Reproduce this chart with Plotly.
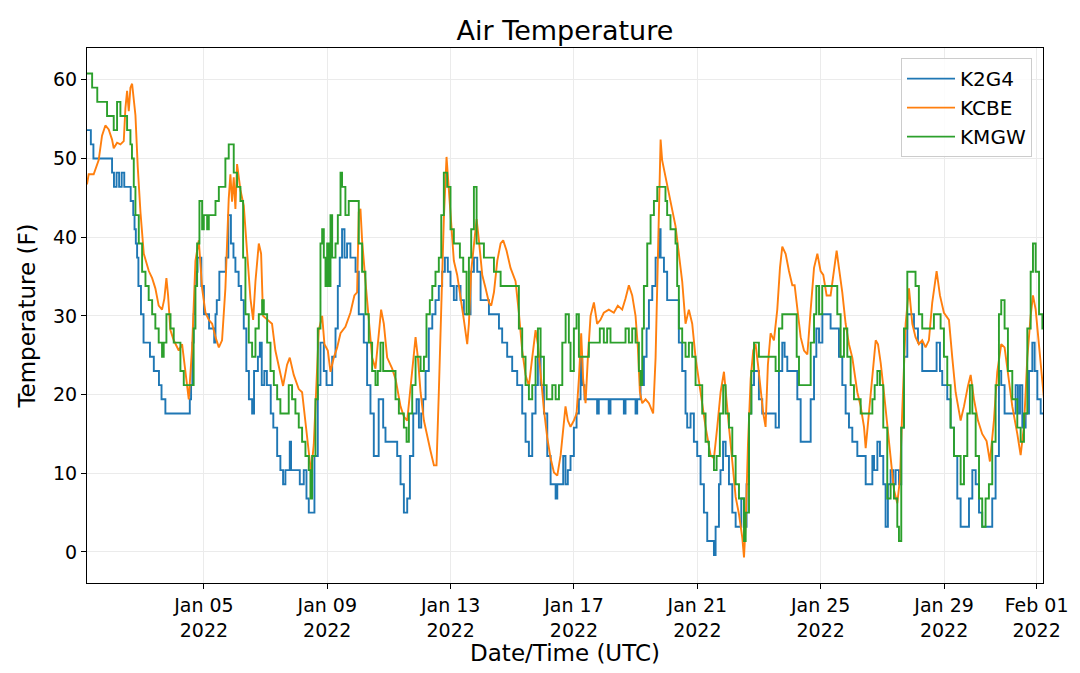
import numpy as np
import pandas as pd
import plotly.graph_objects as go

# ---- data: hours since 2022-01-01 00:00 UTC, temperature (F) ----
k2g4_hours = [5, 8, 10, 24.5, 26, 28, 30, 32, 34, 39, 41, 42, 43, 44, 45, 47, 49, 54, 57, 61, 63, 66,
              84, 85, 86, 87, 88, 89, 90, 91, 92.5, 94, 96, 100, 104, 105, 106, 108, 113, 115, 117, 119,
              120.5, 123, 125, 127, 129, 131, 133.5, 135, 138, 139.5, 141, 143, 145, 148, 150, 153, 155.5,
              157.6, 159.4, 162.8, 163.8, 167, 170.6, 173.7, 175.8, 177.6, 180.2, 182, 184.6, 186.7, 189.3,
              191.4, 194.5, 195.8, 198.4, 200.2, 201.7, 203.5, 205.4, 207.4, 210, 214, 216.5, 220.4, 223,
              225.6, 228.2, 230.8, 232, 233.9, 235.5, 237.3, 243.8, 246.4, 249, 251.6, 254.2, 256.3, 258.9,
              261.5, 263.3, 265.1, 266.6, 268.5, 271, 273.7, 276.2, 278.8, 281.4, 283.5, 285.8, 287.9,
              290.5, 292.6, 295.7, 298.3, 303.5, 306.1, 308.7, 311.3, 317.8, 325.6, 328.1, 332, 335.9,
              339.8, 343.7, 346.3, 348.9, 351.5, 354.1, 355.9, 358, 360.6, 363.2, 365.8, 369.7, 371,
              375.6, 377.4, 379.2, 381.3, 383.9, 386, 387.8, 389.1, 390.4, 392.2, 402, 403.3, 411, 412.4,
              422.8, 424.1, 431.9, 433.2, 435.8, 438.4, 440.5, 442.3, 444.9, 447.5, 450.1, 451.4, 454,
              456.5, 465.6, 468.2, 470.8, 472.1, 474.7, 477.3, 479.9, 482.5, 485.1, 487.7, 492.9, 494.2,
              496.8, 498, 500, 502, 504.6, 507.2, 509.8, 514.2, 516.3, 518.3, 520.2, 522, 524.1, 527.9,
              530.5, 540.9, 543.5, 546.1, 547.9, 550, 557.8, 560.4, 568.2, 570.8, 572.6, 574.7, 577.3,
              583.7, 590.2, 592.8, 595.4, 598, 600.6, 604.5, 611, 616.2, 617.5, 620.1, 622.1, 624.7,
              626.5, 628.3, 630.4, 632.5, 634.3, 636.9, 638.7, 640.8, 643.4, 648.6, 651.7, 655, 666.2,
              668.8, 670.6, 674.5, 677.1, 679.7, 682.3, 684.9, 691.4, 694, 696.6, 699.2, 701.7, 709.5,
              712.1, 714.7, 716.5, 719.1, 727.7, 729.5, 731.1, 732.9, 735.5, 738.1, 740.7, 742.5, 744.6,
              747.2, 749.8]
k2g4_temp = [53.6, 51.8, 50.0, 48.2, 46.4, 48.2, 46.4, 48.2, 46.4, 44.6, 42.8, 41.0, 39.2, 37.4, 33.8, 30.2,
             26.6, 24.8, 23.0, 21.2, 19.4, 17.6,
             17.6, 19.4, 21.2, 26.6, 30.2, 33.8, 35.6, 37.4, 37.4, 33.8, 30.2, 28.4, 26.6, 30.2, 32.0, 35.6,
             37.4, 42.8, 39.2, 37.4, 35.6, 33.8, 32.0, 28.4, 23.0, 19.4, 17.6, 23.0, 24.8, 26.6, 21.2, 23.0,
             21.2, 17.6, 15.8, 12.2, 10.4, 8.6, 10.4, 14.0, 10.4, 10.4, 8.6, 10.4, 6.8, 5.0, 5.0, 12.2,
             21.2, 26.6, 23.0, 21.2, 21.2, 24.8, 28.4, 33.8, 37.4, 41.0, 37.4, 39.2, 37.4, 35.6, 30.2,
             26.6, 21.2, 17.6, 12.2, 12.2, 19.4, 19.4, 15.8, 14.0, 14.0, 12.2, 8.6, 5.0, 6.8, 12.2, 17.6,
             19.4, 15.8, 17.6, 19.4, 23.0, 28.4, 30.2, 32.0, 33.8, 35.6, 37.4, 35.6, 33.8, 32.0, 33.8,
             32.0, 30.2, 35.6, 37.4, 35.6, 32.0, 30.2, 28.4, 26.6, 24.8, 23.0, 21.2, 17.6, 14.0, 12.2,
             17.6, 21.2, 24.8, 21.2, 17.6, 12.2, 8.6, 6.8, 8.6,
             12.2, 8.6, 10.4, 12.2, 15.8, 17.6, 19.4, 24.8, 21.2, 19.4, 17.6, 19.4, 17.6, 19.4, 17.6,
             19.4, 17.6, 19.4, 21.2, 24.8, 28.4, 32.0, 33.8, 37.4, 41.0, 37.4, 35.6, 32.0, 26.6, 23.0,
             17.6, 15.8, 17.6, 14.0, 12.2, 8.6, 5.0, 1.4, -0.4, 3.2, 8.6, 10.4, 14.0, 12.2, 8.6, 5.0,
             3.2, 6.8, 3.2, 8.6, 17.6, 21.2, 23.0, 19.4, 17.6, 15.8, 23.0, 26.6, 24.8, 23.0, 19.4, 14.0,
             19.4, 24.8, 28.4, 26.6, 30.2, 28.4, 24.8, 21.2, 17.6, 15.8, 14.0, 12.2, 8.6, 12.2, 10.4,
             14.0, 12.2, 8.6, 3.2, 8.6, 10.4, 8.6, 10.4, 8.6, 15.8, 24.8, 30.2, 28.4, 26.6, 23.0, 26.6,
             23.0, 21.2, 19.4, 15.8, 12.2, 6.8, 3.2, 6.8, 10.4, 8.6, 5.0, 3.2, 6.8, 12.2, 23.0, 21.2,
             17.6, 21.2, 17.6, 21.2, 15.8, 17.6, 23.0, 26.6, 23.0, 19.4, 17.6, 17.6]

kcbe_hours = [5, 6.3, 10.2, 14.1, 16.7, 19.3, 21.9, 24.5, 25.8, 28.4, 31, 33.6, 34.9, 36.2, 37.5, 38.8, 40.1,
              41.4, 42.7, 44.5, 46.6, 49.2, 53.1, 55.7, 58.2, 60.8, 63.4, 65.2, 66.8, 68.1, 69.9, 72.5,
              76.4, 79, 80.3, 82.9, 84.2, 86.8, 89.4, 92, 94.6, 97.2, 99.8, 102.4, 105, 107.6, 110.1,
              112.7, 115.3, 116.6, 117.9, 119.2, 120.5, 121.8, 124.4, 127, 129.6, 132.2, 134.3, 136.1,
              138.7, 140.5, 142, 145.2, 149, 151.6, 155.5, 157.6, 160.7, 162.8, 165.9, 169.8, 172.4, 175,
              177.6, 179.4, 181.5, 183.6, 185.4, 188, 189.8, 192.4, 194.5, 197.1, 199.7, 202.3, 206.1,
              210, 213.1, 215.2, 216.5, 217.8, 219.1, 221.7, 224.3, 226.9, 229.5, 232.1, 233.9, 236,
              238.6, 242.5, 245.1, 249, 251.6, 254.2, 256.8, 259.4, 260.7, 262.5, 264.6, 267.2, 269.8,
              272.4, 275, 277, 278.8, 280.7, 282.7, 284.8, 286.6, 288.4, 290.5, 293.1, 295.7, 298.3,
              300.9, 302.2, 304, 306.1, 308.2, 310, 312.6, 315.2, 317.8, 319.6, 321.7, 324.3, 326.9,
              328.9, 331.5, 334.6, 338.5, 341.1, 343.7, 346.3, 348.9, 351.5, 354.1, 355.9, 358, 360.6,
              363.2, 365.8, 368.4, 371, 373.6, 375.6, 377.4, 379.2, 381.3, 383.9, 386, 387.8, 389.6,
              391.1, 393, 394.8, 396.9, 399.5, 402, 404.6, 407.2, 411.1, 415, 418.1, 421.5, 424.1, 426.7,
              429.3, 431.9, 433.7, 435.3, 437.1, 439.7, 442.3, 445.6, 447.5, 448.8, 450.1, 451.4, 452.6,
              455.2, 457.8, 460.4, 463, 465.6, 468.2, 470.8, 473.4, 476, 478.6, 482.5, 486.4, 490.3,
              492.9, 495.5, 498.1, 500.7, 502, 504.6, 507.2, 509.8, 512.4, 515, 516.3, 517.6, 519.4,
              521.5, 523.5, 525.3, 527.2, 529.2, 531.3, 533.1, 534.9, 537, 539.6, 542.2, 544.3, 546.1,
              548.7, 551.3, 553.9, 555.7, 557.8, 560.4, 563, 565.6, 568.2, 570.8, 573.4, 575.9, 578,
              580.6, 583.7, 586.3, 588.4, 590.2, 592.8, 595.4, 598, 600.6, 604.5, 607.1, 609.7, 611,
              613.6, 616.2, 618.8, 620.6, 622.7, 625.2, 627.8, 630.4, 633, 635.6, 637.7, 639.5, 642.1,
              644.7, 647.3, 649.8, 652.4, 655, 657.6, 660.2, 662.8, 666.2, 668.8, 671.9, 675.8, 678.4,
              681, 684.9, 687.5, 690.6, 692.7, 695.3, 698.4, 701.7, 705.1, 707.7, 710.8, 713.4, 716.5,
              719.1, 721.7, 725.1, 729, 731.6, 734.2, 736.8, 739.4, 741.2, 743.3, 745.9, 748.5, 749.8]
kcbe_temp = [46.7, 48.0, 48.0, 49.8, 52.9, 54.2, 53.7, 52.4, 51.3, 52.0, 51.8, 52.2, 56.4, 58.6, 56.0, 59.0,
             59.5, 57.7, 55.5, 48.9, 43.2, 37.9, 35.7, 34.8, 33.5, 31.3, 30.8, 32.2, 34.8, 32.6, 28.2,
             26.9, 25.6, 26.4, 24.7, 21.1, 19.4, 26.0, 37.0, 39.6, 33.5, 30.4, 29.5, 29.0, 27.3, 26.0,
             26.9, 33.5, 44.9, 48.0, 44.5, 47.6, 43.6, 49.3, 46.0, 44.0, 37.9, 32.2, 29.5, 34.4, 39.2,
             37.9, 30.0, 29.5, 29.0, 25.6, 22.5, 21.1, 23.8, 24.7, 22.5, 20.7, 20.3, 16.7, 12.8, 10.1,
             13.7, 22.5, 28.2, 30.0, 26.4, 25.6, 22.9, 24.7, 26.0, 27.8, 28.6, 30.4, 32.6, 33.0, 43.2,
             43.6, 39.6, 34.4, 29.0, 24.7, 23.3, 28.2, 30.8, 29.0, 24.7, 23.3, 22.0, 18.5, 17.2, 16.7,
             21.1, 25.6, 27.3, 24.7, 20.3, 16.7, 14.5, 12.8, 11.0, 11.0, 20.3, 31.3, 42.3, 50.2, 45.8,
             41.4, 37.0, 35.2, 32.6, 29.5, 26.4, 29.0, 35.7, 39.2, 42.3, 39.6, 35.2, 33.5, 31.7, 31.3,
             33.0, 37.0, 39.2, 39.6, 38.3, 36.1, 34.4, 30.4, 25.6, 22.5, 21.1, 24.7, 28.2, 26.4, 22.5,
             18.1, 14.5, 11.9, 10.1, 9.7, 12.3, 15.9, 18.5, 16.7, 15.9, 16.7, 17.6, 22.0, 27.8, 22.0,
             18.9, 24.7, 30.0, 31.7, 29.0, 29.5, 30.4, 30.8, 30.4, 31.3, 30.8, 32.2, 33.9, 32.6, 30.0,
             26.0, 20.3, 18.9, 19.4, 18.9, 17.6, 24.7, 33.5, 44.5, 52.4, 49.8, 47.6, 45.8, 43.6, 41.4,
             37.9, 34.4, 29.0, 30.8, 29.0, 24.7, 20.3, 15.9, 12.3, 11.9, 15.9, 20.3, 22.9, 20.3, 15.9,
             11.5, 7.0, 4.8, 1.8, -0.7, 3.5, 13.7, 22.0, 25.6, 26.4, 23.8, 20.3, 17.6, 15.9, 23.8, 27.8,
             26.9, 30.8, 36.1, 38.8, 37.9, 35.7, 33.9, 33.9, 30.8, 27.3, 25.6, 25.1, 30.8, 36.1, 37.9,
             35.7, 35.2, 32.6, 32.6, 35.7, 38.3, 36.1, 33.0, 29.0, 26.4, 24.7, 20.3, 18.5, 15.9, 13.2,
             17.6, 22.5, 26.9, 26.4, 24.0, 20.3, 15.9, 12.3, 7.9, 6.2, 9.3, 18.1, 29.0, 33.5, 29.0, 27.3,
             26.4, 26.9, 26.0, 26.9, 31.7, 35.7, 32.6, 30.4, 29.5, 24.7, 20.3, 16.7, 18.5, 21.1, 22.5,
             19.4, 16.7, 15.0, 14.1, 11.5, 16.7, 22.9, 26.4, 26.0, 22.5, 18.5, 15.0, 12.3, 16.0, 24.7,
             30.0, 32.6, 30.8, 26.4, 22.0, 19.4]

kmgw_hours = [5, 6.3, 9, 13, 18, 20.6, 24.5, 25.8, 28.4, 31, 35, 36.2, 37.5, 38.8, 40, 41.4, 42.7, 45.3,
              47.9, 50.5, 53, 55.7, 58.2, 60.8, 63.4, 64.7, 66.8, 70, 72.5, 77.7, 80.3, 88, 89.4, 90.7,
              92.5, 94.6, 95.9, 98.5, 99.8, 105, 107.6, 112.7, 115.3, 119.2, 121.8, 124.4, 126.5, 128.3,
              130.9, 133.5, 136.1, 138.7, 141.3, 142.6, 145.2, 147.8, 150.4, 153, 155.5, 162, 164.6,
              167.2, 169.8, 172.4, 175, 177.6, 178.9, 180.2, 182.8, 184.6, 186.7, 188, 189.3, 190.6,
              191.9, 193.2, 194.5, 195.8, 198.4, 200.2, 202.3, 203.5, 206.1, 208.7, 216.5, 219.1, 221.7,
              224.3, 226.9, 229.5, 231.3, 233.4, 235.5, 245.1, 247.7, 251.6, 253.7, 255.5, 258.1, 260.7,
              264.6, 267.2, 269.2, 271.8, 273.7, 276.2, 278.8, 280.7, 282.7, 285.3, 287.9, 290.5, 295.2,
              297.8, 300.4, 302.2, 304, 306.1, 308.2, 313.9, 321.7, 326.9, 341.1, 343.7, 346.3, 348.9,
              351.5, 354.1, 355.9, 358, 360.6, 362.7, 367.1, 369.7, 372.3, 374.9, 377.5, 380, 381.3,
              383.9, 386, 387.8, 395.6, 404.1, 407.2, 409.8, 412.4, 424.1, 426.7, 429.3, 431.9, 434.5,
              435.8, 437.1, 438.4, 441, 443.6, 446.2, 448.8, 455.2, 456.5, 459.1, 463, 464.3, 465.6,
              468.2, 470.8, 473.4, 476, 478.6, 483.8, 486.4, 489, 492.9, 495, 497.5, 500.1, 502, 504.6,
              507.2, 509.8, 512.4, 516.3, 517.6, 520.2, 522, 524.1, 527.9, 540.9, 543.5, 546.1, 557.3,
              559.1, 568.2, 570.8, 572.6, 574.7, 577.2, 588.9, 591.5, 594.1, 596.7, 599.3, 601.9, 607.1,
              616.2, 618, 620.1, 622.1, 624.7, 627.8, 630.4, 633, 635.6, 636.9, 638.7, 640.8, 643.4,
              649.8, 652.4, 655, 664.1, 669.3, 671.9, 674.5, 677.1, 679.7, 684.9, 687.5, 690.1, 692.1,
              694, 696.6, 699.2, 701.7, 704.3, 706.9, 709.5, 712.1, 714.7, 716.5, 719.1, 721.7, 725.1,
              729, 731.6, 734.2, 736.8, 739.4, 741.2, 743.3, 745.9, 748.5, 749.8]
kmgw_temp = [60.8, 60.8, 59.0, 57.2, 57.2, 55.4, 55.4, 53.6, 57.2, 55.4, 55.4, 53.6, 53.6, 51.8, 50.0, 46.4,
             42.8, 39.2, 35.6, 33.8, 32.0, 30.2, 28.4, 26.6, 24.8, 26.6, 30.2, 28.4, 26.6, 23.0, 21.2,
             28.4, 33.8, 39.2, 44.6, 41.0, 42.8, 41.0, 42.8, 44.6, 46.4, 50.0, 51.8, 48.2, 46.4, 44.6,
             37.4, 30.2, 26.6, 24.8, 28.4, 30.2, 32.0, 30.2, 26.6, 23.0, 21.2, 19.4, 17.6, 21.2, 19.4,
             17.6, 15.8, 14.0, 12.2, 10.4, 6.8, 12.2, 19.4, 28.4, 39.2, 41.0, 37.4, 33.8, 39.2, 33.8,
             42.8, 37.4, 39.2, 42.8, 48.2, 46.4, 42.8, 44.6, 39.2, 35.6, 30.2, 26.6, 23.0, 21.2, 23.0,
             26.6, 23.0, 19.4, 17.6, 15.8, 14.0, 17.6, 21.2, 24.8, 23.0, 24.8, 30.2, 32.0, 33.8, 35.6,
             37.4, 42.8, 48.2, 46.4, 41.0, 39.2, 37.4, 35.6, 30.2, 37.4, 41.0, 46.4, 39.2, 37.4, 35.6,
             33.8, 28.4, 24.8, 21.2, 19.4, 21.2, 24.8, 28.4, 24.8, 21.2, 19.4, 21.2, 19.4, 21.2, 26.6,
             30.2, 26.6, 23.0, 28.4, 30.2, 24.8, 26.6, 28.4, 26.6, 28.4, 26.6, 28.4, 26.6, 28.4, 26.6,
             23.0, 21.2, 28.4, 33.8, 39.2, 42.8, 44.6, 46.4, 44.6, 42.8, 41.0, 39.2, 33.8, 28.4, 26.6,
             24.8, 26.6, 24.8, 21.2, 17.6, 14.0, 12.2, 10.4, 12.2, 17.6, 21.2, 17.6, 15.8, 12.2, 8.6,
             6.8, 1.4, 5.0, 17.6, 23.0, 26.6, 24.8, 23.0, 28.4, 30.2, 24.8, 21.2, 26.6, 30.2, 33.8, 30.2,
             33.8, 30.2, 24.8, 28.4, 24.8, 21.2, 19.4, 17.6, 19.4, 21.2, 23.0, 21.2, 15.8, 6.8, 8.6, 6.8,
             3.2, 1.4, 15.8, 28.4, 35.6, 33.8, 30.2, 28.4, 30.2, 28.4, 24.8, 21.2, 15.8, 12.2, 8.6, 12.2,
             17.6, 21.2, 17.6, 12.2, 6.8, 3.2, 6.8, 8.6, 14.0, 21.2, 30.2, 32.0, 28.4, 23.0, 19.4, 15.8,
             14.0, 17.6, 28.4, 35.6, 39.2, 35.6, 30.2, 28.4, 26.6]

station_names = ["K2G4", "KCBE", "KMGW"]
tick_dates = ["2022-01-05", "2022-01-09", "2022-01-13", "2022-01-17", "2022-01-21",
              "2022-01-25", "2022-01-29", "2022-02-01"]
tick_labels = ["Jan 05<br>2022", "Jan 09<br>2022", "Jan 13<br>2022", "Jan 17<br>2022",
               "Jan 21<br>2022", "Jan 25<br>2022", "Jan 29<br>2022", "Feb 01<br>2022"]
y_ticks = [0, 10, 20, 30, 40, 50, 60]

base = pd.Timestamp("2022-01-01 00:00")


def to_time(hours):
    return base + pd.to_timedelta(np.array(hours, dtype=float), unit="h")


colors = ["#1f77b4", "#ff7f0e", "#2ca02c"]
series = [(k2g4_hours, k2g4_temp, "hv"), (kcbe_hours, kcbe_temp, "linear"), (kmgw_hours, kmgw_temp, "hv")]

fig = go.Figure()
for name, (hrs, vals, shape), col in zip(station_names, series, colors):
    fig.add_trace(go.Scatter(x=to_time(hrs), y=vals, mode="lines", name=name,
                             line=dict(color=col, width=1.9, shape=shape)))

font_family = "DejaVu Sans"
fig.update_layout(
    width=1080, height=673,
    margin=dict(l=79, r=45, t=40, b=98),
    paper_bgcolor="white", plot_bgcolor="white",
    font=dict(family=font_family, color="black", size=19),
    title=dict(text="Air Temperature", x=0.5157, xanchor="center", y=0.967, yanchor="middle",
               font=dict(size=27, family=font_family, color="black")),
    legend=dict(x=0.9885, y=0.981, xanchor="right", yanchor="top",
                bgcolor="rgba(255,255,255,0.85)", bordercolor="#cccccc", borderwidth=1,
                font=dict(size=20, family=font_family), tracegroupgap=0, itemwidth=48),
    showlegend=True,
)
fig.update_xaxes(
    range=[base + pd.Timedelta(hours=5), base + pd.Timedelta(hours=749)],
    tickmode="array", tickvals=tick_dates, ticktext=tick_labels,
    showgrid=True, gridcolor="#ebebeb", gridwidth=1,
    ticks="outside", ticklen=5, tickcolor="black", tickwidth=1,
    showline=True, linecolor="black", linewidth=1, mirror=True,
    tickfont=dict(size=19), zeroline=False,
    title=dict(text="Date/Time (UTC)", font=dict(size=23), standoff=4),
)
fig.update_yaxes(
    range=[-3.94, 64.04],
    tickmode="array", tickvals=y_ticks,
    showgrid=True, gridcolor="#ebebeb", gridwidth=1,
    ticks="outside", ticklen=5, tickcolor="black", tickwidth=1,
    showline=True, linecolor="black", linewidth=1, mirror=True,
    tickfont=dict(size=19), zeroline=False,
    title=dict(text="Temperature (F)", font=dict(size=23), standoff=10),
)

fig.write_html("out.html")
